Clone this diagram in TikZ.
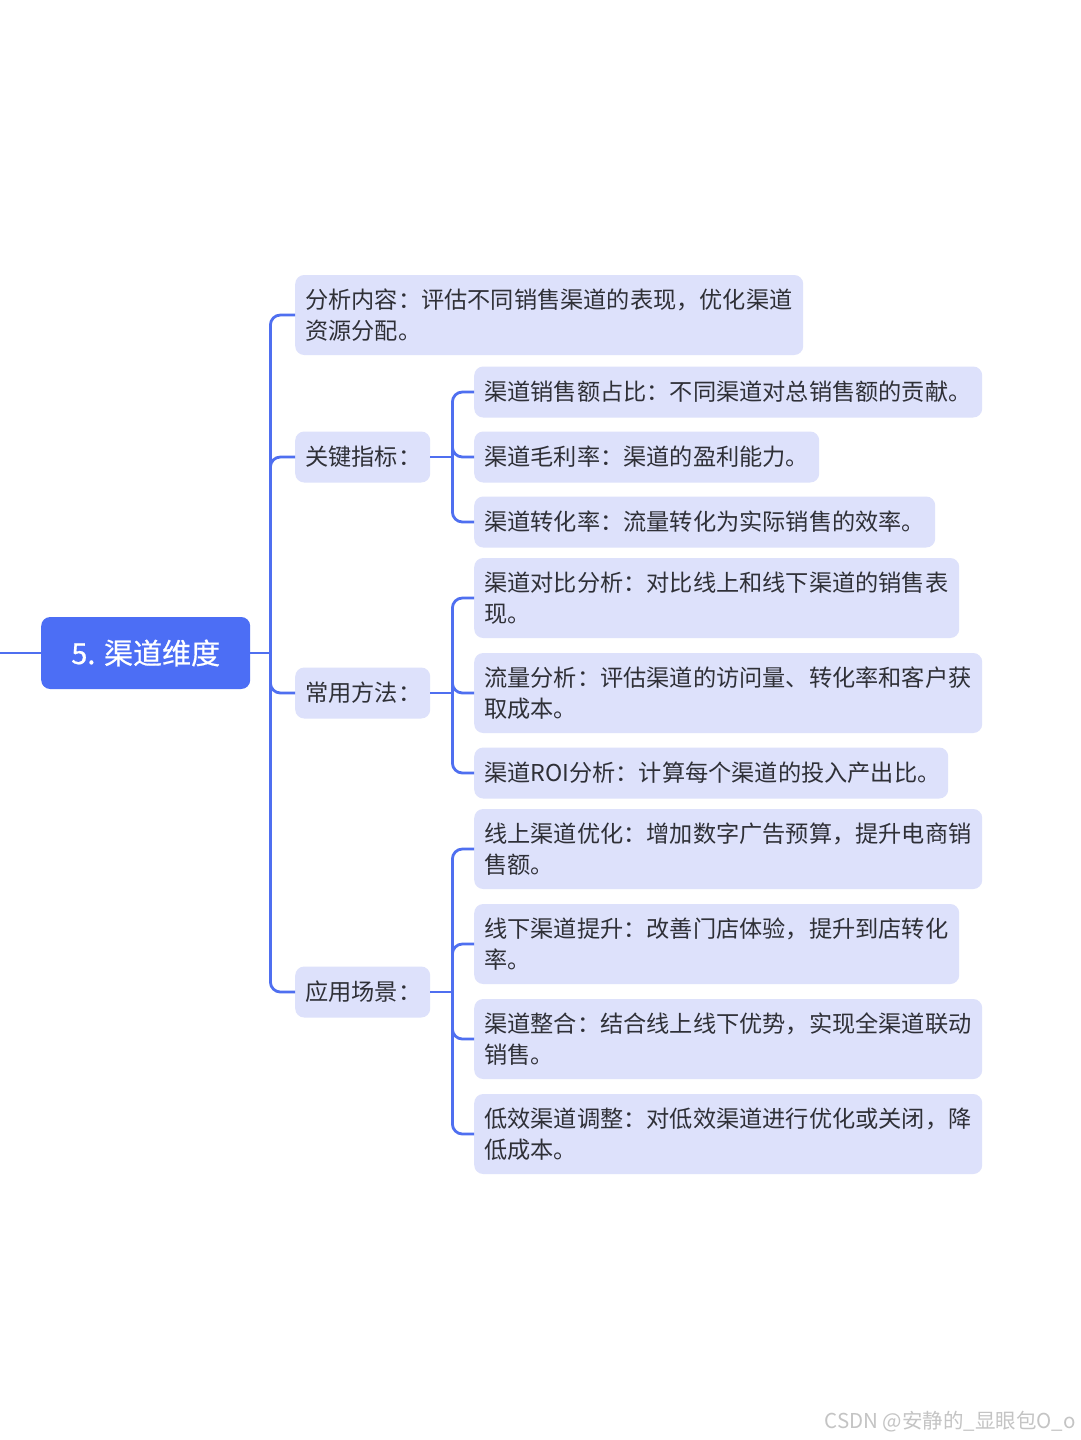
\documentclass[tikz,border=0pt]{standalone}
\usepackage{fontspec}
\setmainfont{Noto Sans CJK SC}
\usetikzlibrary{calc}
\definecolor{rootblue}{HTML}{4C6EF5}
\definecolor{linkblue}{HTML}{4F6FF0}
\definecolor{leaffill}{HTML}{DDE1FB}
\definecolor{txt}{HTML}{2F3037}
\definecolor{wm}{HTML}{C4C4C4}
\begin{document}
\begin{tikzpicture}[x=1pt,y=-1pt,
  rootbox/.style={fill=rootblue, rounded corners=9, minimum width=209, minimum height=72, inner sep=0, text=white, font=\fontsize{29}{36}\selectfont, anchor=west},
  leafbox/.style={fill=leaffill, rounded corners=9, inner xsep=10, inner ysep=0, text width=#1-20, align=left, anchor=west, text=txt, font=\fontsize{23.2}{31}\selectfont, minimum height=51},
  tall/.style={minimum height=80},
  link/.style={draw=linkblue, line width=2.8pt, rounded corners=10}
]
\useasboundingbox (0,0) rectangle (1080,1440);
\fill[white] (0,0) rectangle (1080,1440);

% root
\node[rootbox] (root) at (41,653) {\addfontfeature{FakeBold=0.6}5. 渠道维度};
\coordinate (lin) at (0,653);
\draw[link] (lin) -- (root.west);

% level 1
\node[leafbox=508, tall] (a) at (295,315) {分析内容：评估不同销售渠道的表现，优化渠道\\资源分配。};
\node[leafbox=135] (b) at (295,457) {关键指标：};
\node[leafbox=135] (c) at (295,693) {常用方法：};
\node[leafbox=135] (d) at (295,992) {应用场景：};

% level 2 under b
\node[leafbox=508] (b1) at (474,392) {渠道销售额占比：不同渠道对总销售额的贡献。};
\node[leafbox=345] (b2) at (474,457) {渠道毛利率：渠道的盈利能力。};
\node[leafbox=461] (b3) at (474,522) {渠道转化率：流量转化为实际销售的效率。};

% level 2 under c
\node[leafbox=485, tall] (c1) at (474,598) {渠道对比分析：对比线上和线下渠道的销售表\\现。};
\node[leafbox=508, tall] (c2) at (474,693) {流量分析：评估渠道的访问量、转化率和客户获\\取成本。};
\node[leafbox=474] (c3) at (474,773) {渠道ROI分析：计算每个渠道的投入产出比。};

% level 2 under d
\node[leafbox=508, tall] (d1) at (474,849) {线上渠道优化：增加数字广告预算，提升电商销\\售额。};
\node[leafbox=485, tall] (d2) at (474,944) {线下渠道提升：改善门店体验，提升到店转化\\率。};
\node[leafbox=508, tall] (d3) at (474,1039) {渠道整合：结合线上线下优势，实现全渠道联动\\销售。};
\node[leafbox=508, tall] (d4) at (474,1134) {低效渠道调整：对低效渠道进行优化或关闭，降\\低成本。};

% connectors root -> level 1
\coordinate (rb) at ($(root.east)+(20,0)$);
\draw[link] (root.east) -- (rb);
\foreach \n in {a,b,c,d} \draw[link] (rb) |- (\n.west);

% b -> children
\coordinate (bb) at ($(b.east)+(22,0)$);
\draw[link] (b.east) -- (bb);
\foreach \n in {b1,b2,b3} \draw[link] (bb) |- (\n.west);

% c -> children
\coordinate (cb) at ($(c.east)+(22,0)$);
\draw[link] (c.east) -- (cb);
\foreach \n in {c1,c2,c3} \draw[link] (cb) |- (\n.west);

% d -> children
\coordinate (db) at ($(d.east)+(22,0)$);
\draw[link] (d.east) -- (db);
\foreach \n in {d1,d2,d3,d4} \draw[link] (db) |- (\n.west);

% watermark
\node[anchor=east, text=wm, font=\fontsize{20.5}{24}\selectfont, inner sep=0] (wmk) at (1076,1422) {CSDN @安静的\_显眼包O\_o};
\end{tikzpicture}
\end{document}
